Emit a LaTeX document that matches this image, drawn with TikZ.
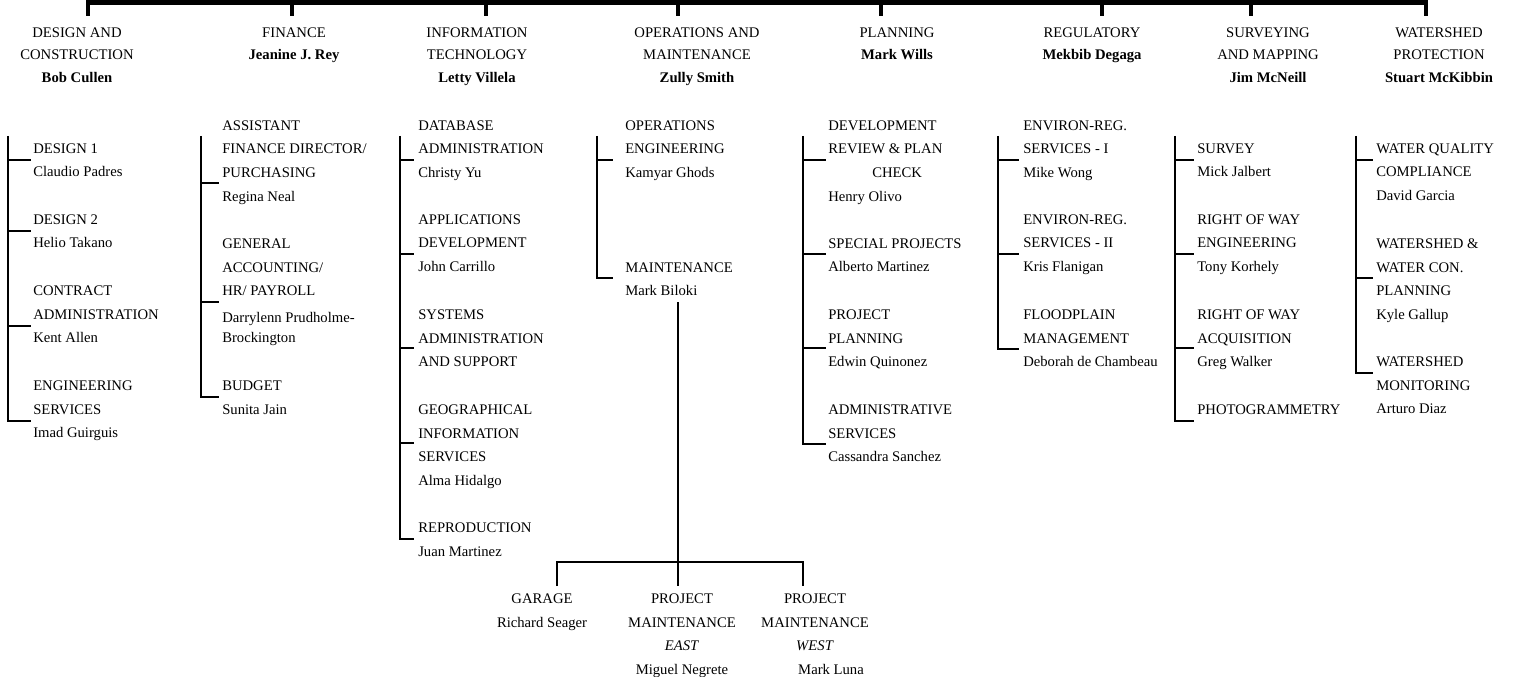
\documentclass[tikz,border=0pt]{standalone}
\usepackage{fontspec}
\setmainfont{Liberation Serif}
\usetikzlibrary{positioning}

\begin{document}
\begin{tikzpicture}[x=0.75pt, y=-0.75pt,
  head/.style={anchor=north, align=center, inner sep=0pt, yshift=11.83pt, font=\fontsize{11}{16.9}\selectfont},
  unit/.style={anchor=north west, align=left, inner sep=0pt, yshift=12.46pt, font=\fontsize{11}{17.8}\selectfont},
  shop/.style={unit, anchor=north, align=center},
  bar/.style={line width=3.5pt},
  link/.style={line width=1.5pt}]

\useasboundingbox (0,0) rectangle (1516,677);

% divisions
\node[head] (dc)  at (77,37)   {\strut DESIGN AND\\CONSTRUCTION\\\textbf{Bob Cullen}};
\node[head] (fin) at (294,37)  {\strut FINANCE\\\textbf{Jeanine J. Rey}};
\node[head] (it)  at (477,37)  {\strut INFORMATION\\TECHNOLOGY\\\textbf{Letty Villela}};
\node[head] (om)  at (697,37)  {\strut OPERATIONS AND\\MAINTENANCE\\\textbf{Zully Smith}};
\node[head] (pl)  at (897,37)  {\strut PLANNING\\\textbf{Mark Wills}};
\node[head] (reg) at (1092,37) {\strut REGULATORY\\\textbf{Mekbib Degaga}};
\node[head] (sm)  at (1268,37) {\strut SURVEYING\\AND MAPPING\\\textbf{Jim McNeill}};
\node[head] (ws)  at (1439,37) {\strut WATERSHED\\PROTECTION\\\textbf{Stuart McKibbin}};

\coordinate (top) at (678,2.5);
\foreach \n/\x in {t1/88, t2/292, t3/486, t4/678, t5/881, t6/1102, t7/1251, t8/1426}
  \coordinate (\n) at (\x,16);
\draw[bar] (t1) |- (top) -| (t8);
\foreach \n in {t2,t3,t4,t5,t6,t7}
  \draw[bar] (\n |- top) -- (\n);

% design and construction
\node[unit] (d1) at (33,153) {\strut DESIGN 1\\Claudio Padres};
\node[unit] (d2) at (33,224) {\strut DESIGN 2\\Helio Takano};
\node[unit] (d3) at (33,295) {\strut CONTRACT\\ADMINISTRATION\\Kent Allen};
\node[unit] (d4) at (33,390) {\strut ENGINEERING\\SERVICES\\Imad Guirguis};

% finance
\node[unit] (f1) at (222,130) {\strut ASSISTANT\\FINANCE DIRECTOR/\\PURCHASING\\Regina Neal};
\node[unit] (f2) at (222,248) {\strut GENERAL\\ACCOUNTING/\\HR/ PAYROLL\\[2.5pt]Darrylenn Prudholme-\\[-2.8pt]Brockington};
\node[unit] (f3) at (222,390) {\strut BUDGET\\Sunita Jain};

% information technology
\node[unit] (i1) at (418,130) {\strut DATABASE\\ADMINISTRATION\\Christy Yu};
\node[unit] (i2) at (418,224) {\strut APPLICATIONS\\DEVELOPMENT\\John Carrillo};
\node[unit] (i3) at (418,319) {\strut SYSTEMS\\ADMINISTRATION\\AND SUPPORT};
\node[unit] (i4) at (418,414) {\strut GEOGRAPHICAL\\INFORMATION\\SERVICES\\Alma Hidalgo};
\node[unit] (i5) at (418,532) {\strut REPRODUCTION\\Juan Martinez};

% operations and maintenance
\node[unit] (o1) at (625,130) {\strut OPERATIONS\\ENGINEERING\\Kamyar Ghods};
\node[unit] (o2) at (625,272) {\strut MAINTENANCE\\Mark Biloki};

\node[shop] (g1) at (542,603) {\strut GARAGE\\Richard Seager};
\node[shop] (g2) at (682,603) {\strut PROJECT\\MAINTENANCE\\\textit{EAST}\\Miguel Negrete};
\node[shop] (g3) at (815,603) {\strut PROJECT\\MAINTENANCE\\\textit{WEST}\\\hspace*{24pt}Mark Luna};

% planning
\node[unit] (p1) at (828,130) {\strut DEVELOPMENT\\REVIEW \& PLAN\\\hspace*{33pt}CHECK\\Henry Olivo};
\node[unit] (p2) at (828,248) {\strut SPECIAL PROJECTS\\Alberto Martinez};
\node[unit] (p3) at (828,319) {\strut PROJECT\\PLANNING\\Edwin Quinonez};
\node[unit] (p4) at (828,414) {\strut ADMINISTRATIVE\\SERVICES\\Cassandra Sanchez};

% regulatory
\node[unit] (r1) at (1023,130) {\strut ENVIRON-REG.\\SERVICES - I\\Mike Wong};
\node[unit] (r2) at (1023,224) {\strut ENVIRON-REG.\\SERVICES - II\\Kris Flanigan};
\node[unit] (r3) at (1023,319) {\strut FLOODPLAIN\\MANAGEMENT\\Deborah de Chambeau};

% surveying and mapping
\node[unit] (s1) at (1197,153) {\strut SURVEY\\Mick Jalbert};
\node[unit] (s2) at (1197,224) {\strut RIGHT OF WAY\\ENGINEERING\\Tony Korhely};
\node[unit] (s3) at (1197,319) {\strut RIGHT OF WAY\\ACQUISITION\\Greg Walker};
\node[unit] (s4) at (1197,414) {\strut PHOTOGRAMMETRY};

% watershed protection
\node[unit] (w1) at (1376,153) {\strut WATER QUALITY\\COMPLIANCE\\David Garcia};
\node[unit] (w2) at (1376,248) {\strut WATERSHED \&\\WATER CON.\\PLANNING\\Kyle Gallup};
\node[unit] (w3) at (1376,366) {\strut WATERSHED\\MONITORING\\Arturo Diaz};

% stubs: spine x / stub end x / unit / stub y
\foreach \sx/\ex/\u/\y in {8/31/d1/160, 8/31/d2/231, 8/31/d3/326, 8/31/d4/421,
    201/219/f1/183, 201/219/f2/302, 201/219/f3/397,
    400/414/i1/160, 400/414/i2/254, 400/414/i3/348, 400/414/i4/443, 400/414/i5/539,
    597/613/o1/160, 597/613/o2/278,
    803/826/p1/160, 803/826/p2/254, 803/826/p3/348, 803/826/p4/444,
    998/1019/r1/160, 998/1019/r2/254, 998/1019/r3/349,
    1175/1194/s1/160, 1175/1194/s2/254, 1175/1194/s3/348, 1175/1194/s4/421,
    1356/1373/w1/160, 1356/1373/w2/278, 1356/1373/w3/373}
  \coordinate (\u-in) at (\ex,\y);
\foreach \sx/\first/\last in {8/d1/d4, 201/f1/f3, 400/i1/i5, 597/o1/o2, 803/p1/p4,
    998/r1/r3, 1175/s1/s4, 1356/w1/w3}
  \draw[link] (\sx,136) |- (\last-in);
\foreach \sx/\u in {8/d1, 8/d2, 8/d3, 201/f1, 201/f2, 400/i1, 400/i2, 400/i3, 400/i4,
    597/o1, 803/p1, 803/p2, 803/p3, 998/r1, 998/r2, 1175/s1, 1175/s2, 1175/s3,
    1356/w1, 1356/w2}
  \draw[link] (\sx,0 |- \u-in) -- (\u-in);

% maintenance shops
\coordinate (o2-out) at (678,302);
\coordinate (g-bar) at (678,562);
\coordinate (g1-in) at (557,586);
\coordinate (g2-in) at (678,586);
\coordinate (g3-in) at (803,586);
\draw[link, line width=1.8pt] (o2-out) -- (g2-in);
\draw[link, line width=1.8pt] (g1-in) |- (g-bar) -| (g3-in);

\end{tikzpicture}
\end{document}
